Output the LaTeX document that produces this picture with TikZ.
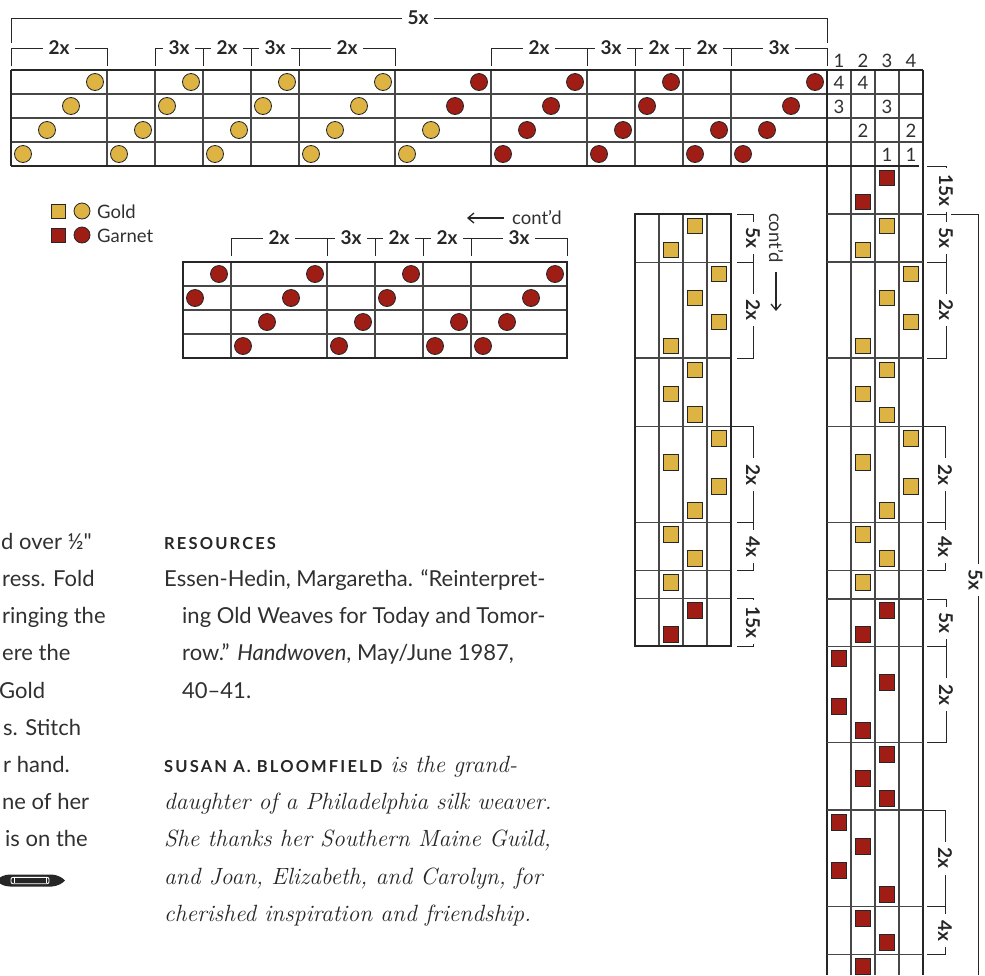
\documentclass[tikz,border=0pt]{standalone}
\usepackage{fontspec}
\newfontfamily\sansf{Lato}
\newfontfamily\capsf[LetterSpace=13]{Lato}
\usetikzlibrary{arrows.meta}
\definecolor{gold}{HTML}{DDB444}
\definecolor{garnet}{HTML}{A01D15}
\definecolor{ink}{HTML}{262626}
\definecolor{gline}{HTML}{474747}
\definecolor{txt}{HTML}{303030}
\begin{document}
\begin{tikzpicture}[x=1pt,y=-1pt,
  gthick/.style={line width=2.2pt,draw=ink},
  gthin/.style={line width=1.2pt,draw=gline},
  brk/.style={line width=1pt,draw=ink},
  gdot/.style={circle,fill=gold,draw=ink,line width=0.8pt,minimum size=17pt,inner sep=0pt},
  rdot/.style={gdot,fill=garnet},
  gsq/.style={rectangle,fill=gold,draw=ink,line width=0.8pt,minimum size=15.5pt,inner sep=0pt},
  rsq/.style={gsq,fill=garnet},
  lab/.style={font=\sansf\bfseries\fontsize{19}{19}\selectfont,fill=white,inner xsep=6pt,inner ysep=2pt,text=ink},
  vlab/.style={lab,rotate=-90},
  num/.style={font=\sansf\fontsize{18.5}{18.5}\selectfont,text=txt,inner sep=0pt},
  body/.style={font=\sansf\fontsize{22}{22}\selectfont,text=txt,inner sep=0pt,anchor=base west},
  bio/.style={font=\itshape\fontsize{23.5}{23.5}\selectfont,text=ink,inner sep=0pt,anchor=base west},
  capsl/.style={font=\capsf\bfseries\fontsize{16.5}{16.5}\selectfont,text=ink,inner sep=0pt,anchor=base west}
]
\useasboundingbox (0,0) rectangle (985,975);

% ---------------- top threading grid ----------------
\foreach \yy in {94,118,142} \draw[gthin] (11,\yy) -- (923,\yy);
\foreach \xx in {107,155,203,251,299,395,491,587,635,683,731} \draw[gthin] (\xx,70) -- (\xx,166);
\foreach \xx in {851,875,899} \draw[gthin] (\xx,70) -- (\xx,975);
\draw[gthick] (11,70) -- (923,70);
\draw[gthick] (11,166) -- (919,166);
\draw[gthick] (11,70) -- (11,166);
\draw[gthick] (827,70) -- (827,975);
\draw[gthick] (923,70) -- (923,975);

\foreach \r [count=\c] in {4,3,2,1,4,3,2,1,4,3,2,1,4,3,2,1,4,3,2,1,4,3,2,1,4,3,2,1,4,3,4,3,2,1} {
  \ifnum\c<19 \def\st{gdot}\else\def\st{rdot}\fi
  \node[\st] (th\c) at ({23+24*(\c-1)},{58+24*\r}) {};
}

% brackets over threading
\draw[brk] (11,43) -- (11,18) -- (827,18) -- (827,43);
\node[lab] (l5x) at (418,18) {5x};
\draw[brk] (11,66) -- (11,48) -- (107,48) -- (107,66);
\draw[brk] (155,66) -- (155,48) -- (395,48) -- (395,66);
\foreach \xx in {203,251,299} \draw[brk] (\xx,48) -- (\xx,66);
\draw[brk] (491,66) -- (491,48) -- (827,48) -- (827,66);
\foreach \xx in {587,635,683,731} \draw[brk] (\xx,48) -- (\xx,66);
\foreach \xx/\t [count=\i] in {59/2x,179/3x,227/2x,275/3x,347/2x,539/2x,611/3x,659/2x,707/2x,779/3x}
  \node[lab] (tb\i) at (\xx,48) {\t};

% tie-up numbers
\foreach \c [count=\i] in {1,2,3,4} \node[num] (tn\i) at ({839+24*(\c-1)},61) {\c};
\foreach \c/\r/\n [count=\i] in {1/1/4,2/1/4,1/2/3,3/2/3,2/3/2,4/3/2,3/4/1,4/4/1}
  \node[num] (tu\i) at ({839+24*(\c-1)},{59+24*\r}) {\n};

% ---------------- treadling (right) ----------------
\foreach \yy in {214,262,358,426.7,522.3,570.7,599,646.7,742.3,810,906.7,954.7}
  \draw[gthin] (827,\yy) -- (923,\yy);
\foreach \xx/\yy/\s [count=\i] in {887/178/rsq,863/202/rsq,887/226/gsq,863/250/gsq,911/274/gsq,887/298/gsq,911/322/gsq,863/346/gsq,887/370/gsq,863/394/gsq,887/415/gsq,911/438.5/gsq,863/462.5/gsq,911/486.5/gsq,887/510.5/gsq,863/534.5/gsq,887/558.5/gsq,863/582.5/gsq,887/610.5/rsq,863/634.5/rsq,839/658.5/rsq,887/682.5/rsq,839/706.5/rsq,863/730.5/rsq,887/754.5/rsq,863/778.5/rsq,887/798.5/rsq,839/822.5/rsq,863/846.5/rsq,839/870.5/rsq,887/894.5/rsq,863/918.5/rsq,887/942.5/rsq,863/966.5/rsq}
  \node[\s] (tr\i) at (\xx,\yy) {};

% brackets right of treadling
\draw[brk] (927,166) -- (946,166) -- (946,358) -- (927,358);
\foreach \yy in {214,262} \draw[brk] (927,\yy) -- (946,\yy);
\draw[brk] (923,426.7) -- (945,426.7) -- (945,570.7) -- (927,570.7);
\draw[brk] (927,522.3) -- (945,522.3);
\draw[brk] (927,599) -- (946,599) -- (946,742.3) -- (927,742.3);
\draw[brk] (927,646.7) -- (946,646.7);
\draw[brk] (923,810) -- (945,810) -- (945,954.7) -- (927,954.7);
\draw[brk] (927,906.7) -- (945,906.7);
\draw[brk] (951,214) -- (978,214) -- (978,975);
\foreach \xx/\yy/\t [count=\i] in {946/190/15x,946/238/5x,946/310/2x,945/474.5/2x,945/546.5/4x,946/623/5x,946/694.5/2x,945/858.3/2x,945/930.7/4x}
  \node[vlab] (rb\i) at (\xx,\yy) {\t};
\node[vlab,inner ysep=1pt] (rbo) at (975.5,580) {5x};

% ---------------- middle (cont'd) treadling ----------------
\foreach \xx in {659,683,707} \draw[gthin] (\xx,214) -- (\xx,646);
\foreach \yy in {262.3,358,426.7,522.7,570.7,598.7} \draw[gthin] (635,\yy) -- (731,\yy);
\draw[gthick] (635,214) rectangle (731,646);
\foreach \xx/\yy/\s [count=\i] in {695/226/gsq,671/250/gsq,719/274/gsq,695/298/gsq,719/322/gsq,671/346/gsq,695/370/gsq,671/394/gsq,695/414.5/gsq,719/438.5/gsq,671/462.5/gsq,719/486.5/gsq,695/510.5/gsq,671/534.5/gsq,695/558.5/gsq,671/582.5/gsq,695/610.5/rsq,671/634.5/rsq}
  \node[\s] (md\i) at (\xx,\yy) {};
\draw[brk] (737,214) -- (753,214) -- (753,358) -- (737,358);
\draw[brk] (737,262.3) -- (753,262.3);
\draw[brk] (731,426.7) -- (753,426.7) -- (753,570.7) -- (737,570.7);
\draw[brk] (737,522.7) -- (753,522.7);
\draw[brk] (737,598.7) -- (753,598.7) -- (753,646) -- (737,646);
\foreach \yy/\t [count=\i] in {238/5x,310/2x,474.7/2x,546.7/4x,622.3/15x}
  \node[vlab] (mb\i) at (753,\yy) {\t};
\node[num,rotate=-90] (mcont) at (776,238) {cont’d};
\coordinate (mca) at (776,272);
\coordinate (mcb) at (776,311);
\draw[line width=1.3pt,draw=ink,-{Straight Barb[length=6pt,width=10pt]}] (mca) -- (mcb);

% ---------------- cont'd threading grid ----------------
\foreach \yy in {286,310,334} \draw[gthin] (183,\yy) -- (567,\yy);
\foreach \xx in {231,327,375,423,471} \draw[gthin] (\xx,262) -- (\xx,358);
\draw[gthick] (183,262) rectangle (567,358);
\foreach \r [count=\c] in {2,1,4,3,2,1,4,3,2,1,4,3,4,3,2,1}
  \node[rdot] (cg\c) at ({195+24*(\c-1)},{250+24*\r}) {};
\draw[brk] (231,256) -- (231,238) -- (567,238) -- (567,256);
\foreach \xx in {327,375,423,471} \draw[brk] (\xx,238) -- (\xx,256);
\foreach \xx/\t [count=\i] in {279/2x,351/3x,399/2x,447/2x,519/3x}
  \node[lab] (cb\i) at (\xx,238) {\t};
\node[num,anchor=west] (hcont) at (512,217) {cont’d};
\coordinate (hca) at (504,218);
\coordinate (hcb) at (467,218);
\draw[line width=1.3pt,draw=ink,-{Straight Barb[length=6pt,width=10pt]}] (hca) -- (hcb);

% ---------------- legend ----------------
\node[gsq,minimum size=14pt] (lg1) at (58,211) {};
\node[gdot,minimum size=16pt] (lg2) at (82,211) {};
\node[num,anchor=west] (lg3) at (97,212) {Gold};
\node[rsq,minimum size=14pt] (lg4) at (58,235) {};
\node[rdot,minimum size=16pt] (lg5) at (82,235) {};
\node[num,anchor=west] (lg6) at (97,236) {Garnet};

% ---------------- left cropped text ----------------
\foreach \yy/\xx/\t [count=\i] in {549.3/1/{d over ½"},586.5/2/{ress. Fold},623.7/2/{ringing the},660.9/2/{ere the},698.1/-1/{Gold},735.3/3/{s. Stitch},772.5/3/{r hand.},809.7/2/{ne of her},846.9/5/{is on the}}
  \node[body] (lt\i) at (\xx,\yy) {\t};
\fill[ink] (-4,880.5) .. controls (0,877) and (4,874.5) .. (10,874.5) -- (52,874.5) .. controls (58,875) and (63,878) .. (65,880.5) .. controls (63,883) and (58,886) .. (52,886.5) -- (10,886.5) .. controls (4,886.5) and (0,884) .. (-4,880.5) -- cycle;
\draw[white,line width=0.9pt,rounded corners=2pt] (11,877.3) rectangle (49,883.7);
\draw[white,line width=0.7pt] (14,878) -- (14,883) (46,878) -- (46,883);

% ---------------- resources and bio ----------------
\node[capsl] (res) at (164,549.3) {RESOURCES};
\node[body] (r1) at (164,586.5) {Essen-Hedin, Margaretha. “Reinterpret-};
\node[body] (r2) at (182,623.7) {ing Old Weaves for Today and Tomor-};
\node[body] (r3) at (182,660.9) {row.” \textit{Handwoven}, May/June 1987,};
\node[body] (r4) at (182,698.1) {40–41.};
\node[bio] (b1) at (164,772.5) {{\capsf\bfseries\upshape\fontsize{16.5}{16.5}\selectfont SUSAN A. BLOOMFIELD} is the grand-};
\node[bio] (b2) at (164,809.7) {daughter of a Philadelphia silk weaver.};
\node[bio] (b3) at (164,846.9) {She thanks her Southern Maine Guild,};
\node[bio] (b4) at (164,884.1) {and Joan, Elizabeth, and Carolyn, for};
\node[bio] (b5) at (164,921.3) {cherished inspiration and friendship.};
\end{tikzpicture}
\end{document}
